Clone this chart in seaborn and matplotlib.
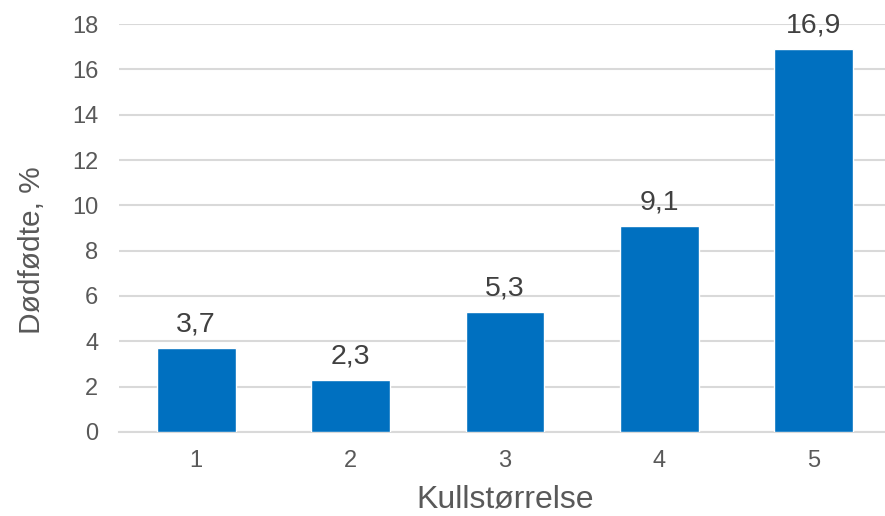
"""
Stillborn piglets (%) by litter size - bar chart.
"""

import pandas as pd
import matplotlib
matplotlib.use("Agg")
import matplotlib.pyplot as plt
import seaborn as sns

# Data
litter_sizes = ["1", "2", "3", "4", "5"]
stillborn_pct = [3.7, 2.3, 5.3, 9.1, 16.9]
y_ticks = [0, 2, 4, 6, 8, 10, 12, 14, 16, 18]

BAR_COLOR = "#0070C0"
TEXT_COLOR = "#595959"
LABEL_COLOR = "#404040"
GRID_COLOR = "#D9D9D9"

sns.set_theme(style="white")
plt.rcParams["font.family"] = ["Liberation Sans", "DejaVu Sans"]

df = pd.DataFrame({"Kullstørrelse": litter_sizes, "Dødfødte": stillborn_pct})

W, H = 885, 516
fig = plt.figure(figsize=(W / 100, H / 100), dpi=100)
ax = fig.add_axes([119 / W, (H - 432) / H, 772 / W, 408 / H])

sns.barplot(data=df, x="Kullstørrelse", y="Dødfødte", color=BAR_COLOR,
            saturation=1, width=0.51, ax=ax, zorder=3)

ax.set_ylim(0, 18)
ax.set_yticks(y_ticks)
ax.set_xlim(-0.5, len(litter_sizes) - 0.5)

# Grid and spines
ax.yaxis.grid(True, color=GRID_COLOR, linewidth=1.5, zorder=0)
ax.set_axisbelow(True)
for side in ["left", "right", "top"]:
    ax.spines[side].set_visible(False)
ax.spines["bottom"].set_color(GRID_COLOR)
ax.spines["bottom"].set_linewidth(1.5)
ax.spines["bottom"].set_zorder(0)

ax.tick_params(axis="y", length=0, pad=15, labelsize=17, labelcolor=TEXT_COLOR)
ax.tick_params(axis="x", length=0, pad=13, labelsize=17, labelcolor=TEXT_COLOR)

ax.set_xlabel("Kullstørrelse", fontsize=23, color=TEXT_COLOR, labelpad=9)
ax.set_ylabel("Dødfødte, %", fontsize=21.5, color=TEXT_COLOR)
ax.yaxis.set_label_coords(-0.095, 0.446)

# Value labels with comma decimal separator
for patch, val in zip(ax.patches, stillborn_pct):
    ax.annotate(f"{val:.1f}".replace(".", ","),
                (patch.get_x() + patch.get_width() / 2, patch.get_height()),
                xytext=(0, 12), textcoords="offset points",
                ha="center", va="baseline", fontsize=20.5, color=LABEL_COLOR,
                annotation_clip=False)

fig.savefig("out.png", dpi=100)
plt.close(fig)
